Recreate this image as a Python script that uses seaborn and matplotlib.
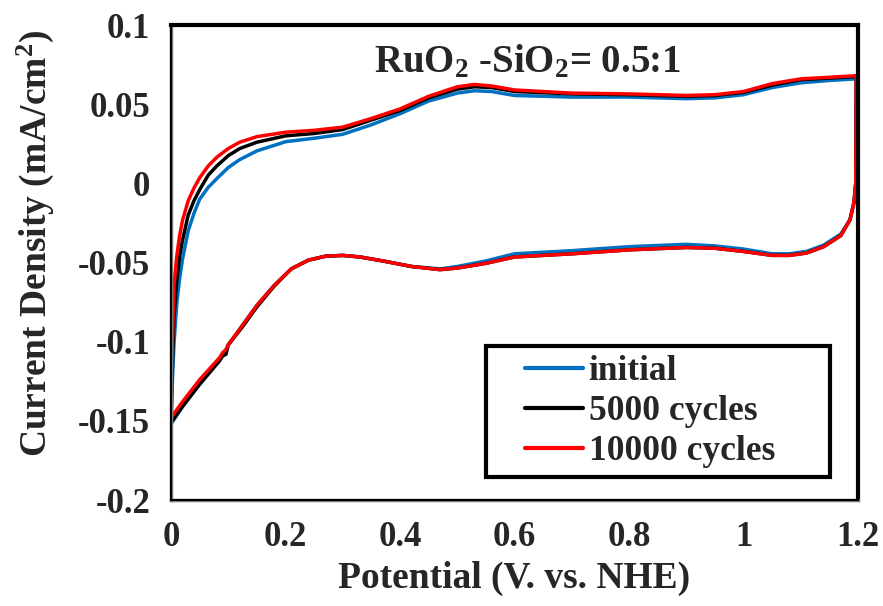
import seaborn as sns
import matplotlib
matplotlib.use('Agg')
import matplotlib.pyplot as plt
import matplotlib.patches as mpatches
from matplotlib.ticker import FuncFormatter
import pandas as pd

# anodic sweep (0 -> 1.2 V), shared potential grid
x_up = [0, 0.002, 0.005, 0.01, 0.015, 0.02, 0.03, 0.04, 0.05, 0.065, 0.08, 0.1, 0.12, 0.15,
        0.2, 0.25, 0.3, 0.35, 0.4, 0.45, 0.5, 0.53, 0.56, 0.6, 0.7, 0.8, 0.9, 0.95, 1.0,
        1.05, 1.1, 1.15, 1.197]
up_initial = [-0.152, -0.128, -0.102, -0.076, -0.06, -0.048, -0.03, -0.019, -0.010, -0.0025,
              0.003, 0.010, 0.015, 0.0205, 0.0263, 0.0285, 0.031, 0.037, 0.044, 0.052, 0.057,
              0.0585, 0.058, 0.0555, 0.0545, 0.0545, 0.0535, 0.054, 0.056, 0.0605, 0.0635,
              0.065, 0.066]
up_5000 = [-0.151, -0.12, -0.085, -0.062, -0.046, -0.036, -0.02, -0.011, -0.004, 0.0052,
           0.011, 0.0175, 0.022, 0.026, 0.030, 0.0315, 0.034, 0.040, 0.046, 0.054, 0.0595,
           0.061, 0.0605, 0.058, 0.0565, 0.056, 0.055, 0.0555, 0.0575, 0.062, 0.0655,
           0.0665, 0.0675]
up_10000 = [-0.148, -0.105, -0.065, -0.046, -0.033, -0.0234, -0.011, -0.003, 0.0035, 0.011,
            0.0165, 0.022, 0.026, 0.0295, 0.0323, 0.0335, 0.0355, 0.041, 0.047, 0.055, 0.061,
            0.0625, 0.0615, 0.059, 0.057, 0.0565, 0.0555, 0.056, 0.058, 0.063, 0.066,
            0.067, 0.068]

# cathodic sweep (1.2 -> 0 V)
x_down = [1.196, 1.193, 1.186, 1.17, 1.14, 1.11, 1.08, 1.05, 1.0, 0.95, 0.9, 0.8, 0.7, 0.6,
          0.55, 0.5, 0.47, 0.42, 0.37, 0.33, 0.3, 0.27, 0.24, 0.21, 0.18, 0.15, 0.125, 0.1,
          0.096, 0.09, 0.085, 0.05, 0.02, 0.0]
down_initial = [0.0, -0.012, -0.023, -0.032, -0.039, -0.043, -0.0445, -0.0445, -0.0415,
                -0.0395, -0.0385, -0.040, -0.0425, -0.0445, -0.049, -0.0525, -0.054, -0.0525,
                -0.049, -0.0465, -0.0455, -0.046, -0.0485, -0.054, -0.0645, -0.077, -0.0895,
                -0.102, -0.105, -0.108, -0.111, -0.126, -0.141, -0.152]
down_5000 = [0.0, -0.012, -0.023, -0.033, -0.040, -0.044, -0.0455, -0.0455, -0.043, -0.041,
             -0.0405, -0.042, -0.0445, -0.0465, -0.0505, -0.0535, -0.0545, -0.0525, -0.049,
             -0.0465, -0.0455, -0.046, -0.0485, -0.054, -0.065, -0.078, -0.0905,
             -0.102, -0.108, -0.109, -0.112, -0.127, -0.141, -0.151]
down_10000 = [0.0, -0.012, -0.023, -0.033, -0.040, -0.044, -0.0455, -0.0455, -0.043, -0.041,
              -0.0405, -0.042, -0.0445, -0.0465, -0.0505, -0.0535, -0.0545, -0.0525, -0.049,
              -0.0465, -0.0455, -0.046, -0.0485, -0.054, -0.0645, -0.077, -0.0895,
              -0.102, -0.105, -0.107, -0.110, -0.124, -0.138, -0.148]

labels = ['initial', '5000 cycles', '10000 cycles']
colors = ['#0070C0', '#000000', '#FF0000']
x_ticks = [0, 0.2, 0.4, 0.6, 0.8, 1.0, 1.2]
y_ticks = [-0.2, -0.15, -0.1, -0.05, 0, 0.05, 0.1]

# long-form frame, one closed loop per series (row order kept)
frames = []
for lab, up, down in zip(labels, [up_initial, up_5000, up_10000],
                         [down_initial, down_5000, down_10000]):
    frames.append(pd.DataFrame({'potential': x_up + x_down,
                                'current': up + down,
                                'series': lab}))
df = pd.concat(frames, ignore_index=True)

sns.set_style('white')
plt.rcParams['font.family'] = ['Liberation Serif', 'DejaVu Serif']
plt.rcParams['font.weight'] = 'bold'
plt.rcParams['mathtext.fontset'] = 'custom'
plt.rcParams['mathtext.rm'] = 'Liberation Serif:bold'
plt.rcParams['mathtext.it'] = 'Liberation Serif:bold'
plt.rcParams['mathtext.bf'] = 'Liberation Serif:bold'

fig = plt.figure(figsize=(8.83, 6.06), dpi=100)
ax = fig.add_axes([0.1937, 0.1749, 0.778, 0.7838])

sns.lineplot(data=df, x='potential', y='current', hue='series', hue_order=labels,
             palette=colors, sort=False, estimator=None, linewidth=2.5, ax=ax)

ax.set_xlim(0, 1.2)
ax.set_ylim(-0.2, 0.1)
ax.set_xticks(x_ticks)
ax.set_yticks(y_ticks)
fmt = FuncFormatter(lambda v, p: '{:g}'.format(round(v, 3)))
ax.xaxis.set_major_formatter(fmt)
ax.yaxis.set_major_formatter(fmt)
ax.tick_params(axis='both', which='major', direction='out', length=7, width=1.2,
               color='#868686', labelsize=25, pad=8)
for t in ax.get_xticklabels() + ax.get_yticklabels():
    t.set_fontweight('bold')

# plot area border + grey axis lines
for side in ['top', 'right']:
    ax.spines[side].set_color('black')
    ax.spines[side].set_linewidth(3)
for side in ['left', 'bottom']:
    ax.spines[side].set_color('#7f7f7f')
    ax.spines[side].set_linewidth(2.5)
ax.add_patch(mpatches.Rectangle((0, 0), 1, 1, transform=ax.transAxes, fill=False,
                                edgecolor='black', linewidth=1.5, zorder=5, clip_on=False))

ax.set_xlabel('Potential (V. vs. NHE)', fontsize=27, fontweight='bold', labelpad=5)
ax.set_ylabel('Current Density (mA/cm$^2$)', fontsize=27, fontweight='bold')
ax.yaxis.set_label_coords(-0.168, 0.541)

ax.text(0.518, 0.922, 'RuO$_2$ -SiO$_2$= 0.5:1', transform=ax.transAxes,
        ha='center', va='center', fontsize=28, fontweight='bold')

# legend entries without frame, box drawn separately (wide side padding like Excel)
leg = ax.legend(loc='center left', bbox_to_anchor=(0.515, 0.186), borderaxespad=0,
                frameon=False, fontsize=25.5, handlelength=1.65, handletextpad=0.15,
                labelspacing=0.2, borderpad=0)
for line in leg.get_lines():
    line.set_linewidth(3)
for t in leg.get_texts():
    t.set_fontweight('bold')
ax.add_patch(mpatches.Rectangle((0.4585, 0.048), 0.501, 0.276, transform=ax.transAxes,
                                fill=False, edgecolor='black', linewidth=3, zorder=6))

fig.savefig('out.png', dpi=100)
